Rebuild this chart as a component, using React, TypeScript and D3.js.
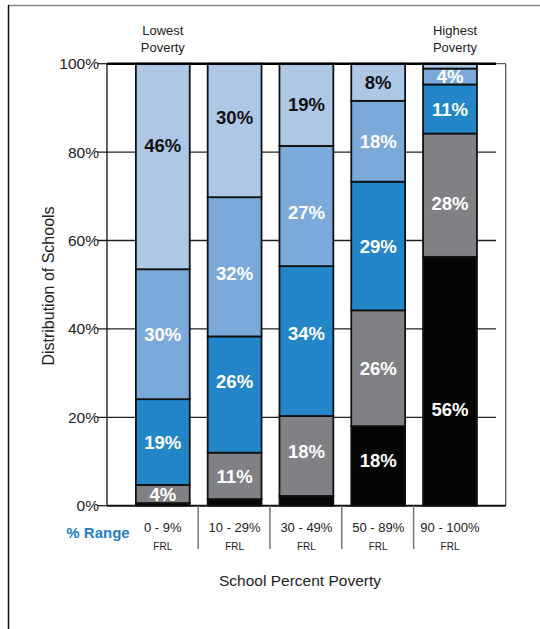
import React from "react";
import * as d3 from "d3";

const categories = ["0 - 9%", "10 - 29%", "30 - 49%", "50 - 89%", "90 - 100%"];
const seriesKeys = ["black", "grey", "blue", "mid", "light"];
const blackVals = [0.6, 1.5, 2.2, 18, 56.3];
const greyVals = [4.1, 10.5, 18.1, 26.2, 27.9];
const blueVals = [19.4, 26.3, 33.9, 29.1, 11.1];
const midVals = [29.4, 31.5, 27.2, 18.3, 3.6];
const lightVals = [46.5, 30.2, 18.6, 8.4, 1.1];
const blackLabels = ["", "", "", "18%", "56%"];
const greyLabels = ["4%", "11%", "18%", "26%", "28%"];
const blueLabels = ["19%", "26%", "34%", "29%", "11%"];
const midLabels = ["30%", "32%", "27%", "18%", "4%"];
const lightLabels = ["46%", "30%", "19%", "8%", ""];
// label levels (in % units) where the label does not sit at the segment middle
const blackLabelLevel = [null, null, null, 10.3, 21.7];
const greyLabelLevel = [null, null, 12.4, null, 68.4];
const blueLabelLevel = [null, 28.2, 39.1, null, null];
const midLabelLevel = [null, 52.6, 66.4, null, null];
const lightLabelLevel = [81.6, 87.8, null, null, null];
const yTicks = [0, 20, 40, 60, 80, 100];

const colors: Record<string, string> = {
  black: "#050505",
  grey: "#808185",
  blue: "#2286c8",
  mid: "#7ba9da",
  light: "#afc7e6",
};
const textColors: Record<string, string> = {
  black: "#fff",
  grey: "#fff",
  blue: "#fff",
  mid: "#fff",
  light: "#111",
};

export default function App() {
  const W = 540, H = 629;
  const y = d3.scaleLinear().domain([0, 100]).range([505.7, 63.7]);
  const x = d3.scaleBand<string>().domain(categories).range([126.9, 485.9]).paddingInner(0.25).paddingOuter(0.125);
  const valueMap: Record<string, number[]> = { black: blackVals, grey: greyVals, blue: blueVals, mid: midVals, light: lightVals };
  const labelMap: Record<string, string[]> = { black: blackLabels, grey: greyLabels, blue: blueLabels, mid: midLabels, light: lightLabels };
  const levelMap: Record<string, (number | null)[]> = { black: blackLabelLevel, grey: greyLabelLevel, blue: blueLabelLevel, mid: midLabelLevel, light: lightLabelLevel };
  const rows = categories.map((c, i) => {
    const r: any = { cat: c };
    seriesKeys.forEach((k) => (r[k] = valueMap[k][i]));
    return r;
  });
  const stacked = d3.stack<any>().keys(seriesKeys)(rows);
  const font = "Liberation Sans, Arial, sans-serif";
  const axisX = 107;
  const plotRight = 505.7;
  const gridRight = 496;
  const bw = x.bandwidth();

  return (
    <svg width={W} height={H} style={{ position: "absolute", left: 0, top: 0 }} fontFamily={font}>
      <rect x={0} y={0} width={W} height={H} fill="#fff" />
      {/* outer frame */}
      <line x1={8} y1={5.5} x2={W} y2={5.5} stroke="#888" strokeWidth={1.5} />
      <line x1={8.5} y1={5} x2={8.5} y2={H} stroke="#111" strokeWidth={1.5} />
      {/* gridlines */}
      {yTicks.filter((t) => t > 0 && t < 100).map((t) => (
        <line key={t} x1={97} x2={gridRight} y1={y(t)} y2={y(t)} stroke="#222" strokeWidth={1.3} />
      ))}
      <line x1={97} x2={axisX} y1={y(0)} y2={y(0)} stroke="#222" strokeWidth={1.3} />
      <line x1={97} x2={axisX} y1={y(100)} y2={y(100)} stroke="#222" strokeWidth={1.3} />
      {/* right frame */}
      <line x1={plotRight} x2={plotRight} y1={y(100)} y2={y(0)} stroke="#555" strokeWidth={1.3} />
      <line x1={axisX} x2={plotRight} y1={y(100)} y2={y(100)} stroke="#333" strokeWidth={1} />
      {/* bars */}
      {stacked.map((s) =>
        s.map((d, i) => {
          const x0 = x(categories[i])!;
          const h = y(d[0]) - y(d[1]);
          return (
            <rect key={s.key + i} x={x0} y={y(d[1])} width={bw} height={h} fill={colors[s.key]} stroke="#111" strokeWidth={1.8} />
          );
        })
      )}
      {/* top line */}
      <line x1={axisX} x2={gridRight} y1={y(100)} y2={y(100)} stroke="#000" strokeWidth={2.5} />
      {/* axes */}
      <line x1={axisX} x2={axisX} y1={y(100)} y2={y(0)} stroke="#111" strokeWidth={1.3} />
      <line x1={axisX} x2={plotRight} y1={y(0)} y2={y(0)} stroke="#111" strokeWidth={2} />
      {/* labels in bars */}
      {stacked.map((s) =>
        s.map((d, i) => {
          const lbl = labelMap[s.key][i];
          if (!lbl) return null;
          const ov = levelMap[s.key][i];
          const level = ov != null ? ov : (d[0] + d[1]) / 2;
          return (
            <text key={"t" + s.key + i} x={x(categories[i])! + bw / 2} y={y(level)} dy="0.36em" textAnchor="middle"
              fontSize={18.5} fontWeight="bold" fill={textColors[s.key]}>
              {lbl}
            </text>
          );
        })
      )}
      {/* y tick labels */}
      {yTicks.map((t) => (
        <text key={"y" + t} x={99} y={y(t)} dy="0.35em" textAnchor="end" fontSize={15.5} fill="#222">
          {t}%
        </text>
      ))}
      {/* y title */}
      <text transform={`translate(54,286) rotate(-90)`} textAnchor="middle" fontSize={16} fill="#222">
        Distribution of Schools
      </text>
      {/* annotations */}
      <text x={x(categories[0])! + bw / 2} y={35} textAnchor="middle" fontSize={13} fill="#222">Lowest</text>
      <text x={x(categories[0])! + bw / 2} y={52} textAnchor="middle" fontSize={13} fill="#222">Poverty</text>
      <text x={455} y={35} textAnchor="middle" fontSize={13} fill="#222">Highest</text>
      <text x={455} y={52} textAnchor="middle" fontSize={13} fill="#222">Poverty</text>
      {/* category separators */}
      {categories.slice(1).map((c) => (
        <line key={"sep" + c} x1={x(c)! - x.step() * 0.125 - 0.5} x2={x(c)! - x.step() * 0.125 - 0.5} y1={y(0)} y2={549} stroke="#777" strokeWidth={1.5} />
      ))}
      {/* x labels */}
      {categories.map((c) => (
        <g key={"xl" + c}>
          <text x={x(c)! + bw / 2} y={532} textAnchor="middle" fontSize={13} fill="#222">{c}</text>
          <text x={x(c)! + bw / 2} y={550} textAnchor="middle" fontSize={10} fill="#222">FRL</text>
        </g>
      ))}
      <text x={98} y={538} textAnchor="middle" fontSize={15} fontWeight="bold" fill="#1f80c6">% Range</text>
      <text x={300} y={586} textAnchor="middle" fontSize={15.5} fill="#222">School Percent Poverty</text>
    </svg>
  );
}
